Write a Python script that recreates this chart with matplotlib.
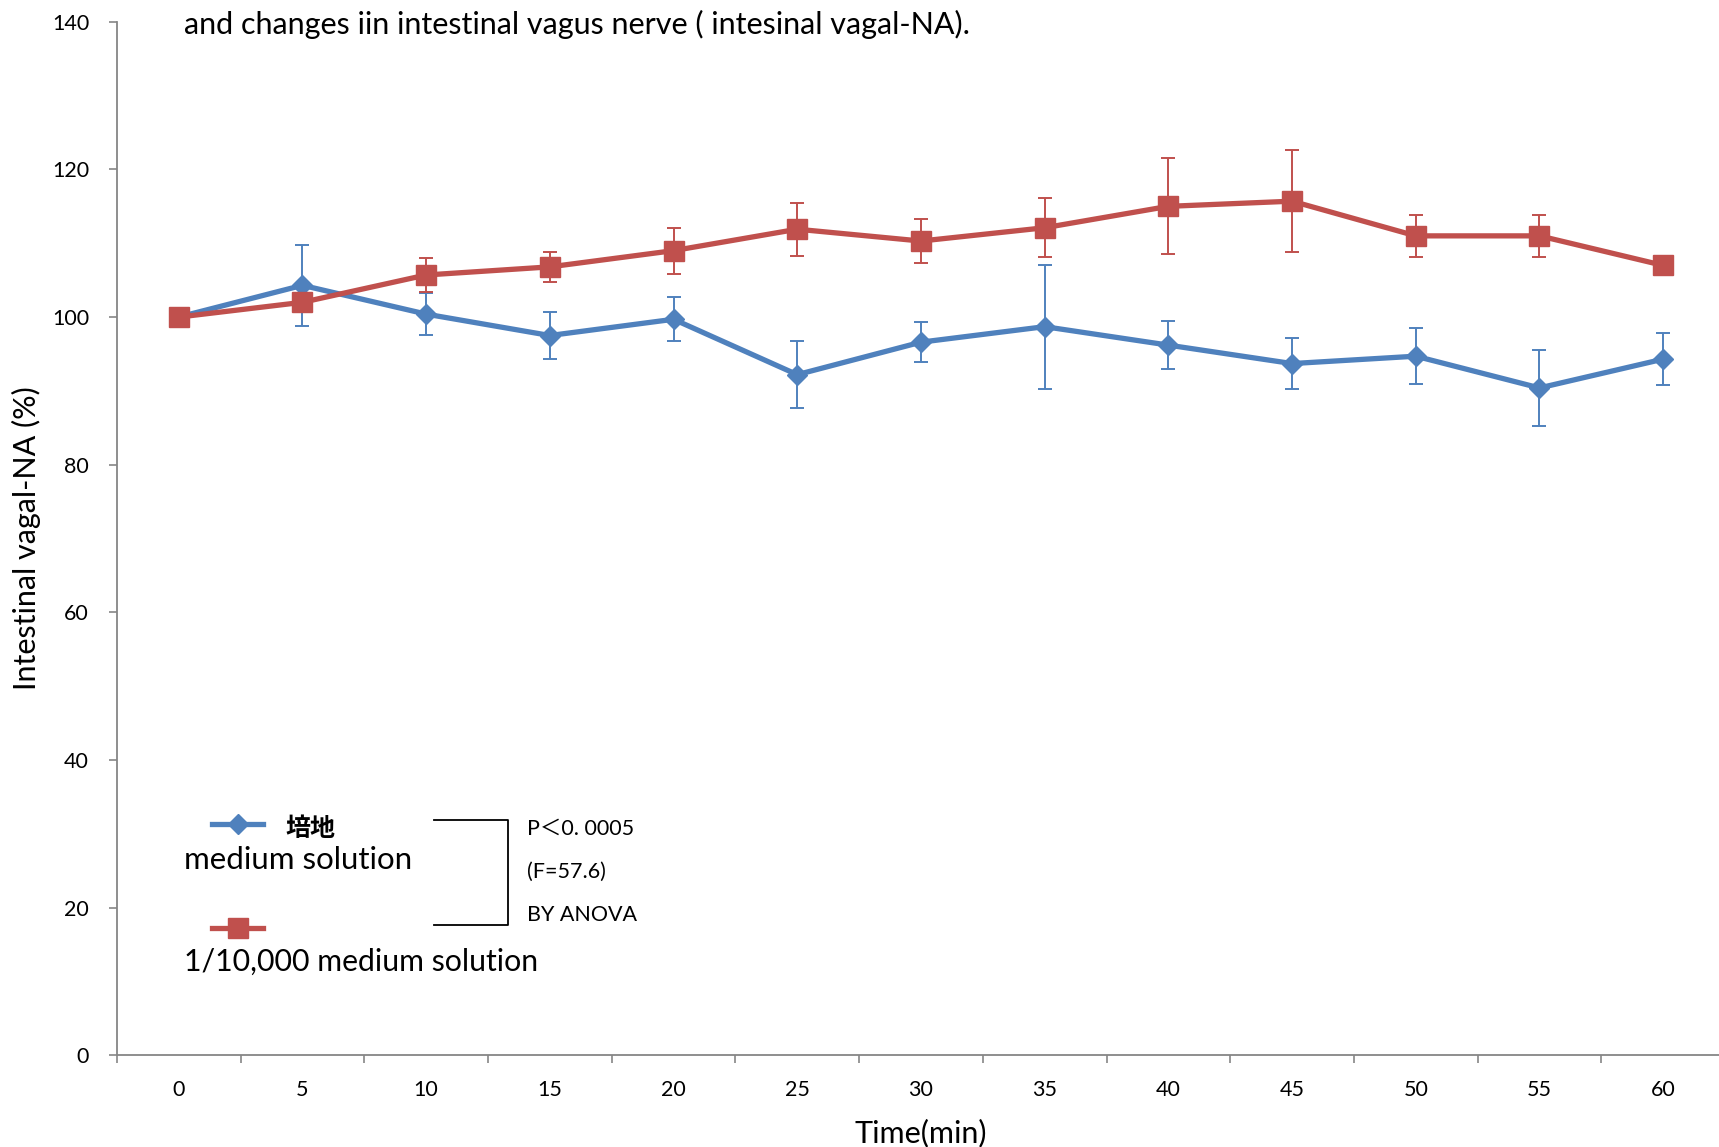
import numpy as np
import matplotlib.pyplot as plt

plt.rcParams['font.family'] = ['Lato', 'Noto Sans CJK JP', 'DejaVu Sans']

# time points (min)
time_min = [0, 5, 10, 15, 20, 25, 30, 35, 40, 45, 50, 55, 60]

# medium solution (培地)
medium_mean = [100, 104.3, 100.4, 97.5, 99.7, 92.2, 96.6, 98.7, 96.2, 93.7, 94.7, 90.4, 94.3]
medium_err = [0, 5.5, 2.8, 3.2, 3.0, 4.5, 2.7, 8.4, 3.3, 3.5, 3.8, 5.1, 3.5]

# 1/10,000 medium solution
dilute_mean = [100, 102.0, 105.7, 106.8, 109.0, 111.9, 110.3, 112.1, 115.0, 115.7, 111.0, 111.0, 107.0]
dilute_err = [0, 0, 2.3, 2.0, 3.1, 3.6, 3.0, 4.0, 6.5, 6.9, 2.8, 2.8, 0]

blue = '#4F81BD'
red = '#C0504D'
axis_grey = '#868686'

fig = plt.figure(figsize=(17.19, 11.47), dpi=100)
ax = fig.add_axes([0.068, 0.080, 0.9355, 0.901])

x = np.arange(len(time_min))

ax.errorbar(x, medium_mean, yerr=medium_err, fmt='none', ecolor=blue,
            elinewidth=1.4, capsize=5, capthick=1.4, zorder=2)
ax.errorbar(x, dilute_mean, yerr=dilute_err, fmt='none', ecolor=red,
            elinewidth=1.4, capsize=5, capthick=1.4, zorder=2)
ax.plot(x, medium_mean, color=blue, lw=3.8, marker='D', ms=10.5,
        mec=blue, mfc=blue, zorder=3)
ax.plot(x, dilute_mean, color=red, lw=3.8, marker='s', ms=14,
        mec=red, mfc=red, zorder=4)

ax.set_xlim(-0.5, len(time_min) - 0.5)
ax.set_ylim(0, 140)
ax.set_yticks(np.arange(0, 141, 20))
ax.set_xticks(x)
ax.set_xticklabels([str(t) for t in time_min])
ax.set_xticks(np.arange(-0.5, len(time_min), 1), minor=True)
ax.tick_params(axis='x', which='major', length=0, pad=18, labelsize=15.5)
ax.tick_params(axis='x', which='minor', length=6, width=1.2, color=axis_grey)
ax.tick_params(axis='y', length=6, width=1.2, color=axis_grey, pad=14,
               labelsize=15.5)

for side in ['top', 'right']:
    ax.spines[side].set_visible(False)
for side in ['left', 'bottom']:
    ax.spines[side].set_color(axis_grey)
    ax.spines[side].set_linewidth(1.3)

ax.set_xlabel('Time(min)', fontsize=22, labelpad=13)
ax.set_ylabel('Intestinal vagal-NA (%)', fontsize=22, labelpad=8)

# legend drawn by hand, label under each handle
tr = ax.transAxes
ax.plot([0.0589, 0.0911], [0.224, 0.224], color=blue, lw=3.8, transform=tr, clip_on=False)
ax.plot([0.0753], [0.224], marker='D', ms=10.5, color=blue, transform=tr, clip_on=False)
ax.text(0.1047, 0.2197, '培地', fontsize=18, fontweight='bold', transform=tr, va='center')
ax.text(0.0418, 0.189, 'medium solution', fontsize=22.5, transform=tr, va='center')

ax.plot([0.0589, 0.0911], [0.1231, 0.1231], color=red, lw=3.8, transform=tr, clip_on=False)
ax.plot([0.0753], [0.1231], marker='s', ms=14, color=red, transform=tr, clip_on=False)
ax.text(0.0418, 0.0902, '1/10,000 medium solution', fontsize=21.8, transform=tr, va='center')

# significance bracket
ax.plot([0.197, 0.243, 0.243, 0.197], [0.2272, 0.2272, 0.1263, 0.1263],
        color='black', lw=1.3, transform=tr)
ax.text(0.2553, 0.2187, 'P＜0. 0005', fontsize=15.5, transform=tr, va='center')
ax.text(0.2553, 0.1773, '(F=57.6)', fontsize=15.5, transform=tr, va='center')
ax.text(0.2553, 0.1359, 'BY ANOVA', fontsize=15.5, transform=tr, va='center')

fig.text(0.107, 0.979, 'and changes iin intestinal vagus nerve ( intesinal vagal-NA).',
         fontsize=22, va='center', ha='left')

fig.savefig('out.png', dpi=100)
